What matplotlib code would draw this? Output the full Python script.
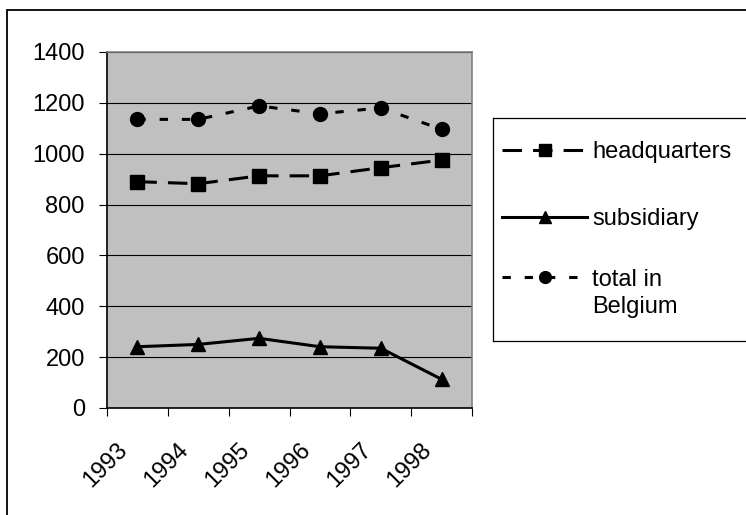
import numpy as np
import matplotlib
matplotlib.use("Agg")
import matplotlib.pyplot as plt
from matplotlib.patches import Rectangle
from matplotlib.transforms import ScaledTranslation

# -------------------------
# Data
# -------------------------
years = ["1993", "1994", "1995", "1996", "1997", "1998"]
headquarters = [890, 882, 913, 913, 945, 975]
subsidiary = [241, 250, 274, 241, 235, 113]
total_belgium = [1135, 1135, 1188, 1157, 1180, 1096]
y_ticks = [0, 200, 400, 600, 800, 1000, 1200, 1400]

plt.rcParams["font.family"] = ["Liberation Sans", "DejaVu Sans"]
plt.rcParams["font.size"] = 17
plt.rcParams["lines.scale_dashes"] = False

W, H = 746, 515
fig = plt.figure(figsize=(W / 100, H / 100), dpi=100)

# outer chart border (runs off the right / bottom edge like the original)
fig.patches.append(Rectangle((7 / W, -0.1), 1.2, (H - 10) / H + 0.1,
                             transform=fig.transFigure, fill=False,
                             ec="black", lw=1.3))

# plot area in pixels: x 107..472, y 52..408
ax = fig.add_axes([107 / W, (H - 408) / H, 365 / W, 356 / H])
ax.set_facecolor("#c0c0c0")

styles = {
    "headquarters": dict(color="black", lw=2.2, ls=(0, (14, 8)),
                         marker="s", ms=9.5),
    "subsidiary": dict(color="black", lw=2.2, ls="-",
                       marker="^", ms=10.5),
    "total": dict(color="black", lw=2.2, ls=(0, (6, 10)),
                  marker="o", ms=10),
}

x = np.arange(len(years)) + 0.5
ax.plot(x, headquarters, **styles["headquarters"])
ax.plot(x, subsidiary, **styles["subsidiary"])
ax.plot(x, total_belgium, **styles["total"])

ax.set_xlim(0, len(years))
ax.set_ylim(0, 1400)

ax.set_yticks(y_ticks)
ax.set_axisbelow(True)
ax.yaxis.grid(True, color="black", lw=0.8)
ax.tick_params(axis="y", length=6, width=0.8, pad=10, direction="out")

# tick marks on category boundaries, labels on category centres
ax.set_xticks(np.arange(len(years) + 1))
ax.set_xticklabels([])
ax.tick_params(axis="x", which="major", length=6, width=0.8, direction="out")
ax.set_xticks(x, minor=True)
ax.set_xticklabels(years, minor=True, rotation=45, ha="right", va="center",
                   rotation_mode="anchor")
ax.tick_params(axis="x", which="minor", length=0, pad=28)
shift = ScaledTranslation(-13 / 100, 0, fig.dpi_scale_trans)
for lab in ax.get_xticklabels(minor=True):
    lab.set_transform(lab.get_transform() + shift)

for side in ["left", "bottom"]:
    ax.spines[side].set_color("black")
    ax.spines[side].set_linewidth(1.2)
for side in ["top", "right"]:
    ax.spines[side].set_color("#808080")
    ax.spines[side].set_linewidth(1.2)

# -------------------------
# Legend box (pixel layout, handle aligned with first label line)
# -------------------------
lx0, ly0, lx1, ly1 = 493, 118, 770, 341
lax = fig.add_axes([lx0 / W, (H - ly1) / H, (lx1 - lx0) / W, (ly1 - ly0) / H])
lax.set_xlim(0, lx1 - lx0)
lax.set_ylim(ly1 - ly0, 0)
lax.set_xticks([])
lax.set_yticks([])
lax.patch.set_facecolor("white")
for s in lax.spines.values():
    s.set_color("black")
    s.set_linewidth(0.9)

entries = [("headquarters", ["headquarters"], 32),
           ("subsidiary", ["subsidiary"], 99),
           ("total", ["total in", "Belgium"], 159)]
for key, lines, yy in entries:
    st = dict(styles[key])
    st["ms"] = st["ms"] * 0.85
    lax.plot([9, 94], [yy, yy], **st, markevery=[])
    lax.plot([51.5], [yy], **{k: v for k, v in st.items() if k != "ls"}, ls="none")
    for i, line in enumerate(lines):
        lax.text(99, yy + 8.5 + i * 28, line, va="baseline", ha="left",
                 fontsize=17)

fig.savefig("out.png", dpi=100)
